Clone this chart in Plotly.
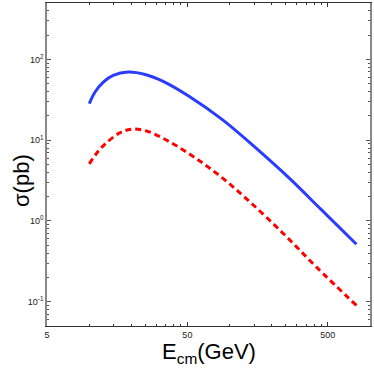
import plotly.graph_objects as go

# Data
e_blue = [10, 11.0, 12.6, 14.8, 18.9, 25, 33.6, 52, 89.7, 155, 267, 450, 800]
sigma_blue = [28.4, 39.5, 52.5, 63.5, 69.7, 65, 53.5, 34.5, 17.7, 7.9, 3.36, 1.38, 0.515]

e_red = [10, 11.3, 12.9, 16.5, 20, 25.6, 37.5, 58, 89.7, 139, 240, 414, 800]
sigma_red = [5.1, 6.9, 8.9, 12.3, 13.7, 13.0, 9.5, 5.9, 3.36, 1.73, 0.705, 0.27, 0.09]

x_tickvals = [5, 50, 500]
x_ticktext = ["5", "50", "500"]
x_minor = [10, 15, 20, 25, 30, 35, 40, 45, 100, 150, 200, 250, 300, 350, 400, 450]

y_tickvals = [0.1, 1, 10, 100]
y_ticktext = ["10<sup>-1</sup>", "10<sup>0</sup>", "10<sup>1</sup>", "10<sup>2</sup>"]
y_minor = [m * d for d in [0.01, 0.1, 1, 10, 100] for m in range(2, 10)]

FONT = "Liberation Sans, Arial, sans-serif"

fig = go.Figure()
fig.add_trace(go.Scatter(x=e_blue, y=sigma_blue, mode="lines",
                         line=dict(color="#2a3cff", width=3, shape="spline", smoothing=1.0),
                         showlegend=False))
fig.add_trace(go.Scatter(x=e_red, y=sigma_red, mode="lines",
                         line=dict(color="#ff0000", width=3, dash="6px,4px", shape="spline", smoothing=1.0),
                         showlegend=False))

fig.update_xaxes(type="log", range=[0.69897, 3.0], automargin=False,
                 tickmode="array", tickvals=x_tickvals, ticktext=x_ticktext,
                 ticks="inside", ticklen=4, tickcolor="#333", tickwidth=1,
                 showline=True, linecolor="#333", linewidth=1, mirror="ticks",
                 showgrid=False, zeroline=False,
                 tickfont=dict(family=FONT, size=9, color="#222"),
                 minor=dict(tickmode="array", tickvals=x_minor, ticks="inside",
                            ticklen=2, tickcolor="#333", showgrid=False))
fig.update_yaxes(type="log", range=[-1.30103, 2.69897], automargin=False,
                 tickmode="array", tickvals=y_tickvals, ticktext=y_ticktext,
                 ticks="inside", ticklen=4, tickcolor="#555", tickwidth=1,
                 showline=True, linecolor="#888", linewidth=1.5, mirror="ticks",
                 showgrid=False, zeroline=False,
                 tickfont=dict(family=FONT, size=9, color="#222"),
                 minor=dict(tickmode="array", tickvals=y_minor, ticks="inside",
                            ticklen=2, tickcolor="#555", showgrid=False))

fig.add_annotation(text="E<sub>cm</sub>(GeV)", xref="paper", yref="paper",
                   x=0.5, y=0, xanchor="center", yanchor="middle", yshift=-27,
                   showarrow=False, font=dict(family=FONT, size=22, color="#000"))
fig.add_annotation(text="σ(pb)", xref="paper", yref="paper",
                   x=0, y=0.449, xanchor="center", yanchor="middle", xshift=-25,
                   textangle=-90, showarrow=False,
                   font=dict(family=FONT, size=22, color="#000"))

fig.update_layout(width=374, height=371,
                  margin=dict(l=47, r=4, t=3, b=45, autoexpand=False),
                  paper_bgcolor="white", plot_bgcolor="white")

fig.write_html("out.html", config={"displayModeBar": False},
               post_script="document.body.style.margin='0';document.body.style.padding='0';")
